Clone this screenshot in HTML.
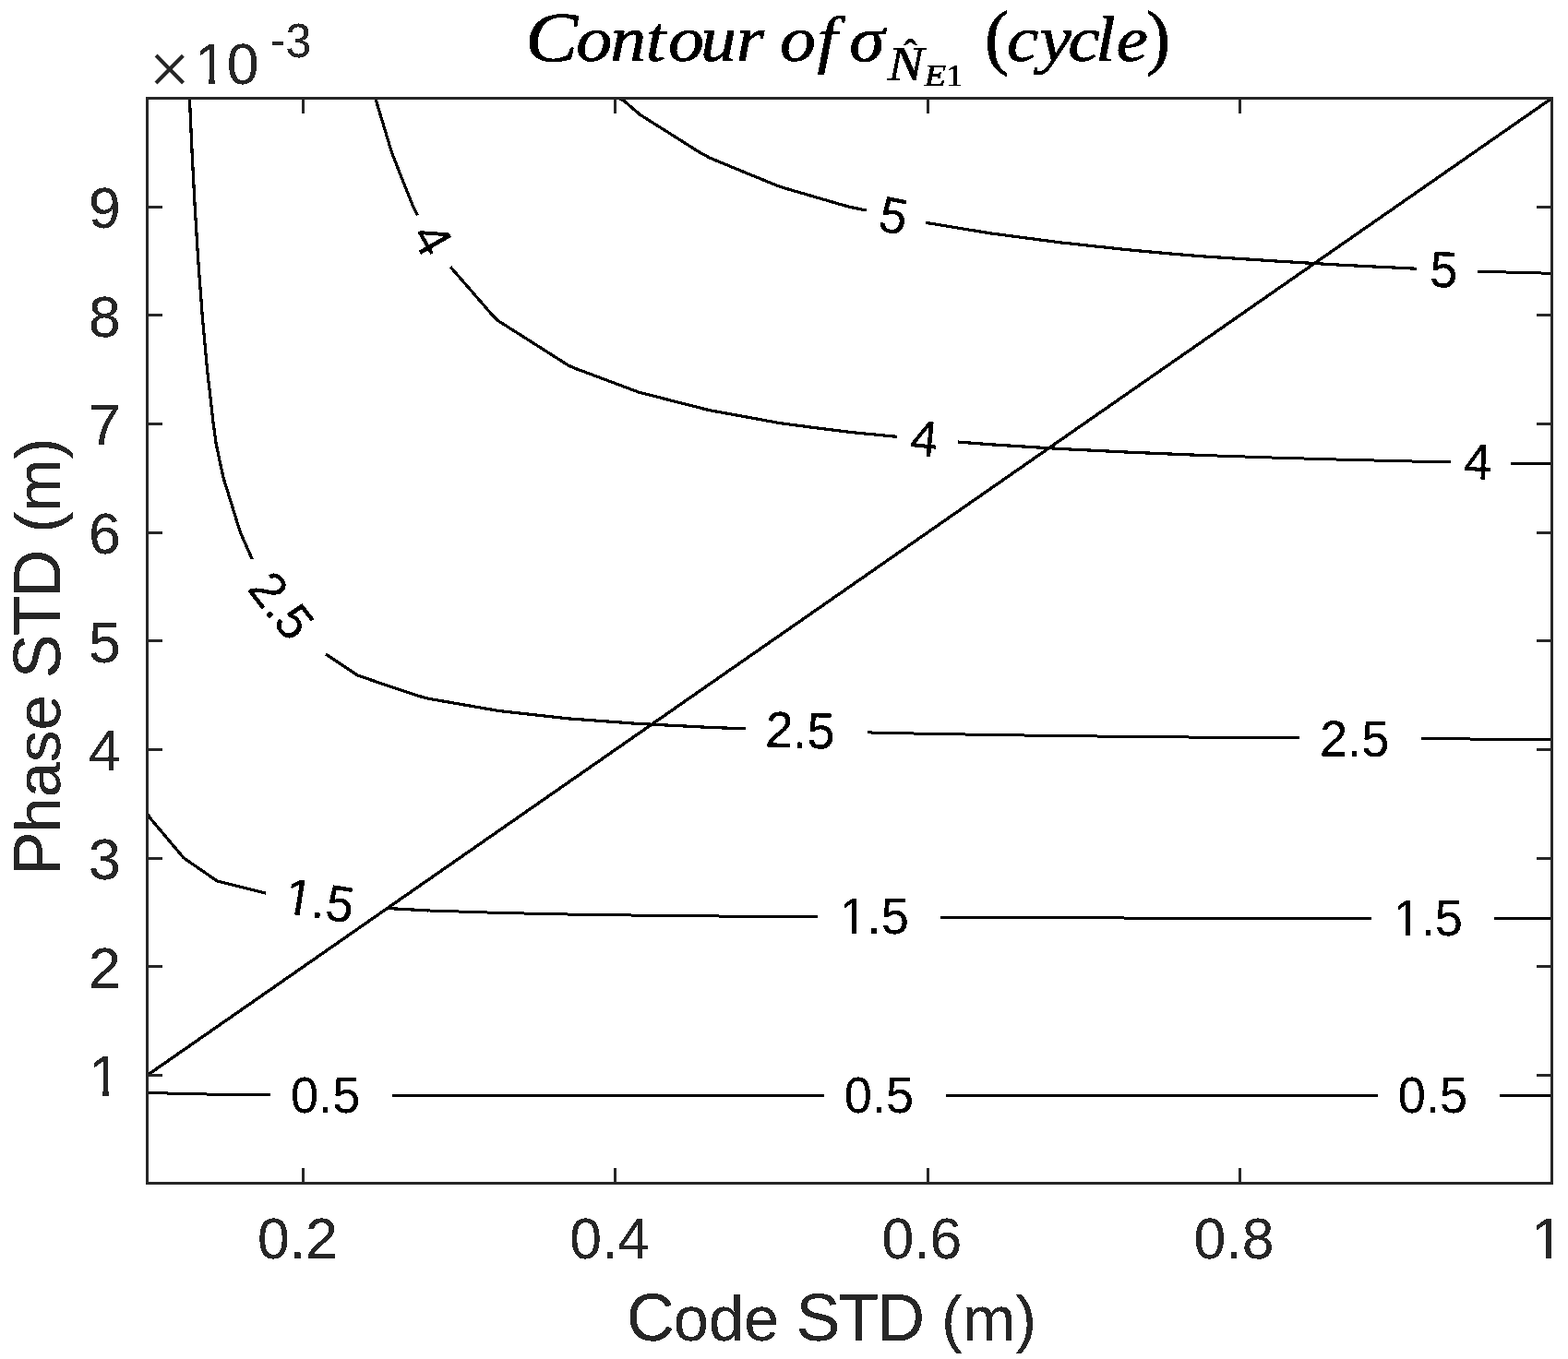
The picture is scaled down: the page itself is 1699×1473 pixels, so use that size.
<!DOCTYPE html>
<html lang="en">
<head>
<meta charset="utf-8">
<title>Contour of sigma N E1 (cycle)</title>
<style>
html,body{margin:0;padding:0;background:#fff;}
body{width:1699px;height:1473px;overflow:hidden;}
svg{display:block;}
.ax{stroke:#262626;stroke-width:3;fill:none;shape-rendering:crispEdges;}
.tk{stroke:#262626;stroke-width:3;fill:none;shape-rendering:crispEdges;}
.ct,.cf{stroke:#000;stroke-width:3.2;fill:none;stroke-linejoin:round;stroke-linecap:butt;shape-rendering:crispEdges;}
.cf{stroke-width:3;}
.tl{font-family:"Liberation Sans", Arial, Helvetica, sans-serif;font-size:62.5px;fill:#262626;}
.ex{font-family:"Liberation Sans", Arial, Helvetica, sans-serif;font-size:50px;fill:#262626;}
.al{font-family:"Liberation Sans", Arial, Helvetica, sans-serif;font-size:68.75px;fill:#262626;}
.cl{font-family:"Liberation Sans", Arial, Helvetica, sans-serif;font-size:54.17px;fill:#000;}
.ti{font-family:"Liberation Serif", "Times New Roman", Times, serif;font-style:italic;fill:#000;stroke:#000;stroke-width:0.6px;}
.tu{font-family:"Liberation Serif", "Times New Roman", Times, serif;font-style:normal;fill:#000;stroke:#000;stroke-width:0.6px;}
</style>
</head>
<body>
<svg width="1699" height="1473" viewBox="0 0 1699 1473" role="img" aria-label="Contour plot of the ambiguity standard deviation versus code and phase standard deviation">
<defs>
<filter id="na" x="-2%" y="-2%" width="104%" height="104%" color-interpolation-filters="sRGB"><feComponentTransfer><feFuncA type="discrete" tableValues="0 0 1 1 1"/></feComponentTransfer></filter>
<clipPath id="c1" clipPathUnits="userSpaceOnUse"><rect x="-41.65" y="-40.75" width="83.30" height="54.54"/><rect x="-24.33" y="9.79" width="5.39" height="13.05"/><rect x="-7.53" y="9.79" width="49.18" height="21.67"/></clipPath>
<clipPath id="c2" clipPathUnits="userSpaceOnUse"><rect x="-41.65" y="-40.75" width="83.30" height="54.54"/><rect x="-24.33" y="9.79" width="5.39" height="13.05"/><rect x="-7.53" y="9.79" width="49.18" height="21.67"/></clipPath>
<clipPath id="c3" clipPathUnits="userSpaceOnUse"><rect x="-41.65" y="-40.75" width="83.30" height="54.54"/><rect x="-24.33" y="9.79" width="5.39" height="13.05"/><rect x="-7.53" y="9.79" width="49.18" height="21.67"/></clipPath>
<clipPath id="c4" clipPathUnits="userSpaceOnUse"><rect x="-4.00" y="-68.75" width="42.76" height="63.08"/><rect x="15.42" y="-9.67" width="6.12" height="13.67"/></clipPath>
<clipPath id="c5" clipPathUnits="userSpaceOnUse"><rect x="-4.00" y="-68.75" width="42.76" height="63.08"/><rect x="15.42" y="-9.67" width="6.12" height="13.67"/></clipPath>
<clipPath id="c6" clipPathUnits="userSpaceOnUse"><rect x="-4.00" y="-68.75" width="77.52" height="63.08"/><rect x="15.42" y="-9.67" width="6.12" height="13.67"/><rect x="34.76" y="-9.67" width="38.76" height="25.00"/></clipPath>
</defs>
<rect x="0" y="0" width="1699" height="1473" fill="#ffffff"/>
<g id="contours">
<polyline class="ct" style="stroke-width:3.35" points="159.5,1165.5 1681.5,106.5"/>
<polyline class="cf" points="159.50,1184.49 235.59,1186.28 293.00,1186.89"/>
<polyline class="cf" points="424.60,1187.37 540.00,1187.49 783.52,1187.48 798.74,1187.55 829.18,1187.55 836.79,1187.62 892.90,1187.64"/>
<polyline class="cf" points="1024.80,1187.47 1065.09,1187.47 1072.70,1187.54 1492.90,1187.50"/>
<polyline class="cf" points="1625.00,1187.50 1681.50,1187.50"/>
<polyline class="ct" points="159.50,881.96 163.69,887.94 199.03,929.91 235.35,955.01 288.10,968.17"/>
<polyline class="ct" points="420.80,984.53 463.87,986.93"/><polyline class="cf" points="463.87,986.93 539.99,989.41 616.09,991.02 692.19,992.14 768.29,992.93 844.40,993.51 885.80,993.76"/>
<polyline class="cf" points="1018.90,994.41 1148.80,994.85 1224.90,995.03 1453.20,995.49 1485.90,995.50"/>
<polyline class="cf" points="1618.80,995.50 1681.50,995.50"/>
<polyline class="ct" points="205.42,106.57 208.08,165.34 211.19,224.12 214.80,282.90 219.19,341.69 224.52,400.49 231.19,459.31 234.27,481.60 238.94,503.61 242.18,518.27 260.32,576.91 273.30,606.15"/>
<polyline class="ct" points="353.10,709.03 387.52,732.05 415.93,741.73 451.41,753.70 463.75,757.17 539.93,770.41 616.05,778.88 692.17,784.47 768.28,788.38 807.90,789.88"/>
<polyline class="cf" points="940.30,793.91 996.59,795.16 1072.69,796.48 1148.79,797.55 1224.89,798.42 1293.38,799.06 1408.20,799.75"/>
<polyline class="cf" points="1539.60,800.68 1567.35,800.82 1681.50,801.66"/>
<polyline class="ct" points="406.74,106.50 424.49,165.33 435.99,194.74 447.75,224.04 452.40,233.40"/>
<polyline class="ct" points="488.10,289.33 507.66,311.73 533.19,341.21 540.32,348.03 616.24,396.25 625.32,400.11 692.30,425.16 768.37,444.62 806.41,451.50 844.43,458.52 847.53,458.96 876.72,462.79 920.52,468.38 972.10,473.36"/>
<polyline class="ct" points="1037.90,479.03 1072.71,481.75 1148.81,486.48 1224.91,490.26 1301.00,493.38"/><polyline class="cf" points="1301.00,493.38 1377.10,495.97 1453.20,498.15 1529.30,499.99 1571.90,500.86"/>
<polyline class="cf" points="1636.90,502.09 1681.50,502.88"/>
<polyline class="ct" points="670.79,106.50 676.55,109.70 693.63,124.43 718.39,139.97 755.58,163.61 769.07,171.15 810.39,188.22 844.88,202.33 913.90,222.46 920.89,224.33 938.70,228.06"/>
<polyline class="ct" points="1003.30,241.36 1072.96,252.83 1148.99,262.86 1225.02,271.06 1270.64,275.19 1301.08,277.72 1344.94,280.54 1377.18,282.68 1453.26,287.24 1534.90,291.25"/>
<polyline class="cf" points="1601.20,294.10 1635.88,295.12 1681.50,296.32"/>
</g>
<g id="clabels" filter="url(#na)">
<text class="cl" transform="translate(352.6,1186.4) rotate(0.0) scale(1,1.020)" x="-37.65" y="18.83">0.5</text>
<text class="cl" transform="translate(952.5,1186.4) rotate(0.0) scale(1,1.020)" x="-37.65" y="18.83">0.5</text>
<text class="cl" transform="translate(1552.4,1186.4) rotate(0.0) scale(1,1.020)" x="-37.65" y="18.83">0.5</text>
<text class="cl" transform="translate(346.3,975.9) rotate(9.0) scale(1,1.020)" x="-37.65" y="18.83" clip-path="url(#c1)">1.5</text>
<text class="cl" transform="translate(947.1,992.8) rotate(0.0) scale(1,1.020)" x="-37.65" y="18.83" clip-path="url(#c2)">1.5</text>
<text class="cl" transform="translate(1547.2,994.8) rotate(0.0) scale(1,1.020)" x="-37.65" y="18.83" clip-path="url(#c3)">1.5</text>
<text class="cl" transform="translate(305.2,656.2) rotate(52.0) scale(1,1.020)" x="-37.65" y="18.83">2.5</text>
<text class="cl" transform="translate(867.0,791.2) rotate(1.8) scale(1,1.020)" x="-37.65" y="18.83">2.5</text>
<text class="cl" transform="translate(1467.7,800.3) rotate(0.4) scale(1,1.020)" x="-37.65" y="18.83">2.5</text>
<text class="cl" transform="translate(468.6,258.9) rotate(60.0) scale(1,1.020)" x="-15.06" y="18.83">4</text>
<text class="cl" transform="translate(1001.6,475.0) rotate(5.4) scale(1,1.020)" x="-15.06" y="18.83">4</text>
<text class="cl" transform="translate(1601.2,500.1) rotate(1.5) scale(1,1.020)" x="-15.06" y="18.83">4</text>
<text class="cl" transform="translate(968.2,233.4) rotate(11.5) scale(1,1.020)" x="-15.06" y="18.83">5</text>
<text class="cl" transform="translate(1564.4,291.9) rotate(2.9) scale(1,1.020)" x="-15.06" y="18.83">5</text>
</g>
<g id="axes">
<line class="tk" x1="328.5" y1="1282.5" x2="328.5" y2="1266.0"/>
<line class="tk" x1="328.5" y1="106.5" x2="328.5" y2="123.0"/>
<line class="tk" x1="666.5" y1="1282.5" x2="666.5" y2="1266.0"/>
<line class="tk" x1="666.5" y1="106.5" x2="666.5" y2="123.0"/>
<line class="tk" x1="1005.5" y1="1282.5" x2="1005.5" y2="1266.0"/>
<line class="tk" x1="1005.5" y1="106.5" x2="1005.5" y2="123.0"/>
<line class="tk" x1="1343.5" y1="1282.5" x2="1343.5" y2="1266.0"/>
<line class="tk" x1="1343.5" y1="106.5" x2="1343.5" y2="123.0"/>
<line class="tk" x1="159.5" y1="1165.5" x2="176.0" y2="1165.5"/>
<line class="tk" x1="1681.5" y1="1165.5" x2="1665.0" y2="1165.5"/>
<line class="tk" x1="159.5" y1="1047.5" x2="176.0" y2="1047.5"/>
<line class="tk" x1="1681.5" y1="1047.5" x2="1665.0" y2="1047.5"/>
<line class="tk" x1="159.5" y1="930.5" x2="176.0" y2="930.5"/>
<line class="tk" x1="1681.5" y1="930.5" x2="1665.0" y2="930.5"/>
<line class="tk" x1="159.5" y1="812.5" x2="176.0" y2="812.5"/>
<line class="tk" x1="1681.5" y1="812.5" x2="1665.0" y2="812.5"/>
<line class="tk" x1="159.5" y1="694.5" x2="176.0" y2="694.5"/>
<line class="tk" x1="1681.5" y1="694.5" x2="1665.0" y2="694.5"/>
<line class="tk" x1="159.5" y1="577.5" x2="176.0" y2="577.5"/>
<line class="tk" x1="1681.5" y1="577.5" x2="1665.0" y2="577.5"/>
<line class="tk" x1="159.5" y1="459.5" x2="176.0" y2="459.5"/>
<line class="tk" x1="1681.5" y1="459.5" x2="1665.0" y2="459.5"/>
<line class="tk" x1="159.5" y1="341.5" x2="176.0" y2="341.5"/>
<line class="tk" x1="1681.5" y1="341.5" x2="1665.0" y2="341.5"/>
<line class="tk" x1="159.5" y1="224.5" x2="176.0" y2="224.5"/>
<line class="tk" x1="1681.5" y1="224.5" x2="1665.0" y2="224.5"/>
<rect class="ax" x="159.5" y="106.5" width="1522.0" height="1176.0"/>
</g>
<g id="ticklabels" filter="url(#na)">
<text class="tl" transform="translate(279.00,1364.20) scale(1,1.020)" x="0" y="0">0.2</text>
<text class="tl" transform="translate(617.20,1364.20) scale(1,1.020)" x="0" y="0">0.4</text>
<text class="tl" transform="translate(955.40,1364.20) scale(1,1.020)" x="0" y="0">0.6</text>
<text class="tl" transform="translate(1293.60,1364.20) scale(1,1.020)" x="0" y="0">0.8</text>
<text class="tl" transform="translate(1659.60,1364.20) scale(1,1.020)" x="0" y="0" clip-path="url(#c4)">1</text>
<text class="tl" transform="translate(96.00,1188.20) scale(1,1.020)" x="0" y="0" clip-path="url(#c5)">1</text>
<text class="tl" transform="translate(96.00,1070.53) scale(1,1.020)" x="0" y="0">2</text>
<text class="tl" transform="translate(96.00,952.87) scale(1,1.020)" x="0" y="0">3</text>
<text class="tl" transform="translate(96.00,835.20) scale(1,1.020)" x="0" y="0">4</text>
<text class="tl" transform="translate(96.00,717.53) scale(1,1.020)" x="0" y="0">5</text>
<text class="tl" transform="translate(96.00,599.86) scale(1,1.020)" x="0" y="0">6</text>
<text class="tl" transform="translate(96.00,482.20) scale(1,1.020)" x="0" y="0">7</text>
<text class="tl" transform="translate(96.00,364.53) scale(1,1.020)" x="0" y="0">8</text>
<text class="tl" transform="translate(96.00,246.86) scale(1,1.020)" x="0" y="0">9</text>
<text class="tl" x="161.3" y="100.5" style="font-size:77px;stroke:#fff;stroke-width:1.3px">×</text>
<text class="tl" transform="translate(210.90,91.10) scale(1,1.020)" x="0" y="0" clip-path="url(#c6)">10</text>
<text class="ex" transform="translate(292.8,61.6) scale(1,1.020)" x="0" y="0"><tspan dy="-1">-</tspan><tspan dy="1">3</tspan></text>
</g>
<g id="labels" filter="url(#na)">
<text class="al" transform="translate(680,1452.7)" y="0"><tspan x="-1.12" style="font-size:71.84px">C</tspan><tspan x="49.65">ode </tspan><tspan x="182.42" style="font-size:71.84px">S</tspan><tspan x="228.37" style="font-size:71.84px">T</tspan><tspan x="270.19" style="font-size:71.84px">D</tspan><tspan x="320.96"> (m)</tspan></text>
<text class="al" transform="translate(65.2,948.3) rotate(-90)" y="0"><tspan x="-1.03" style="font-size:71.84px">P</tspan><tspan x="45.86">hase </tspan><tspan x="213.01" style="font-size:71.84px">S</tspan><tspan x="258.95" style="font-size:71.84px">T</tspan><tspan x="300.77" style="font-size:71.84px">D</tspan><tspan x="351.54"> (m)</tspan></text>
</g>
<g id="title" filter="url(#na)">
<text class="ti" transform="scale(1.1200,1)" y="66.00"><tspan x="508.30" style="font-size:76.00px">C</tspan><tspan x="557.36" style="font-size:69.50px">o</tspan><tspan x="590.33" style="font-size:69.50px">n</tspan><tspan x="624.73" style="font-size:69.50px">t</tspan><tspan x="646.33" style="font-size:69.50px">o</tspan><tspan x="677.73" style="font-size:69.50px">u</tspan><tspan x="712.24" style="font-size:69.50px">r</tspan><tspan x="739.29" style="font-size:69.50px"> </tspan><tspan x="754.50" style="font-size:69.50px">o</tspan><tspan x="790.59" style="font-size:69.50px">f</tspan><tspan x="809.90" style="font-size:69.50px"> </tspan><tspan x="821.62" style="font-size:69.50px">σ</tspan></text>
<text class="ti" transform="scale(1.1200,1)" y="86.60"><tspan x="859.03" style="font-size:52.20px">N</tspan></text>
<text class="tu" y="72.40"><tspan x="979.22" style="font-size:43.00px">ˆ</tspan></text>
<text class="ti" transform="scale(1.1200,1)" y="93.30"><tspan x="894.12" style="font-size:34.40px">E</tspan></text>
<text class="tu" y="93.30"><tspan x="1025.68" style="font-size:34.00px">1</tspan></text>
<text class="tu" y="66.20"><tspan x="1066.90" style="font-size:78.30px">(</tspan></text>
<text class="ti" transform="scale(1.1200,1)" y="66.00"><tspan x="973.93" style="font-size:69.50px">c</tspan><tspan x="1005.85" style="font-size:69.50px">y</tspan><tspan x="1033.21" style="font-size:69.50px">c</tspan><tspan x="1059.80" style="font-size:69.50px">l</tspan><tspan x="1079.87" style="font-size:69.50px">e</tspan></text>
<text class="tu" y="66.20"><tspan x="1241.97" style="font-size:78.30px">)</tspan></text>
</g>
</svg>
</body>
</html>
